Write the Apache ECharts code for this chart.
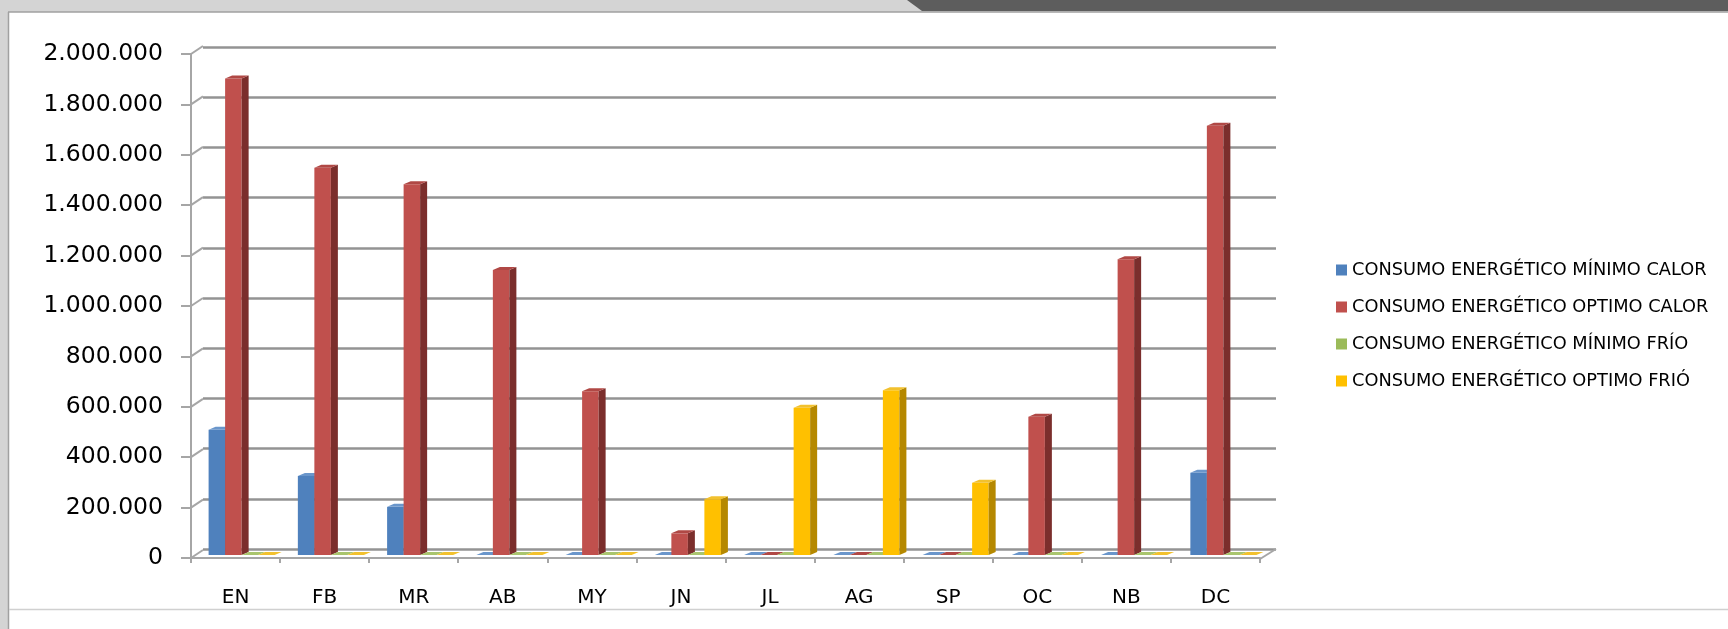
<!DOCTYPE html>
<html>
<head>
<meta charset="utf-8">
<script src="https://cdn.jsdelivr.net/npm/echarts@6/dist/echarts.min.js"></script>
<style>
html,body{margin:0;padding:0;background:#fff;}
#chart{width:1728px;height:629px;}
</style>
</head>
<body>
<div id="chart"></div>
<script>
// ---- data ----
const categories = ['EN','FB','MR','AB','MY','JN','JL','AG','SP','OC','NB','DC'];
const seriesNames = [
  'CONSUMO ENERGÉTICO MÍNIMO CALOR',
  'CONSUMO ENERGÉTICO OPTIMO CALOR',
  'CONSUMO ENERGÉTICO MÍNIMO FRÍO',
  'CONSUMO ENERGÉTICO OPTIMO FRIÓ'
];
const minimoCalor = [497000, 313000, 191000, 0, 0, 0, 0, 0, 0, 0, 0, 326000];
const optimoCalor = [1891000, 1537000, 1471000, 1131000, 650000, 86000, 0, 0, 0, 549000, 1174000, 1703000];
const minimoFrio  = [0, 0, 0, 0, 0, 0, 0, 0, 0, 0, 0, 0];
const optimoFrio  = [0, 0, 0, 0, 0, 221000, 584000, 654000, 287000, 0, 0, 0];
const yTicks = [0, 200000, 400000, 600000, 800000, 1000000, 1200000, 1400000, 1600000, 1800000, 2000000];

const palette = [
  {front:'#4f81bd', side:'#385d8a', top:'#6a96cb'},
  {front:'#c0504d', side:'#7b2e2c', top:'#b04845'},
  {front:'#9bbb59', side:'#71893f', top:'#a9c56e'},
  {front:'#ffc000', side:'#b58800', top:'#f2c12e'}
];
const FONT = 'DejaVu Sans';

function fmt(v){ return String(v).replace(/\B(?=(\d{3})+(?!\d))/g, '.'); }

function barRender(idx){
  const c = palette[idx];
  return function(params, api){
    const ci = api.value(0), v = api.value(1);
    const base = api.coord([ci, 0]);
    const top = api.coord([ci, v]);
    const band = api.size([1, 0])[0];
    const bw = band * 0.185;
    const x0 = base[0] - 2 * bw + idx * bw;
    const x1 = x0 + bw;
    const yb = base[1], yt = top[1];
    const dx = 7, dy = 3;
    return {type:'group', children:[
      {type:'rect', shape:{x:x0, y:yt, width:bw, height:yb - yt}, style:{fill:c.front}},
      {type:'polygon', shape:{points:[[x1,yt],[x1+dx,yt-dy],[x1+dx,yb-dy],[x1,yb]]}, style:{fill:c.side}},
      {type:'polygon', shape:{points:[[x0,yt],[x1,yt],[x1+dx,yt-dy],[x0+dx,yt-dy]]}, style:{fill:c.top}}
    ]};
  };
}

const allData = [minimoCalor, optimoCalor, minimoFrio, optimoFrio];

const barSeries = allData.map((arr, i) => ({
  name: seriesNames[i],
  type: 'custom',
  xAxisIndex: 2, yAxisIndex: 2,
  renderItem: barRender(i),
  itemStyle: {color: palette[i].front},
  data: arr.map((v, k) => [k, v]),
  z: 5 + i,
  silent: true
}));

const connectorSeries = {
  type: 'custom',
  xAxisIndex: 0, yAxisIndex: 0,
  silent: true,
  z: 3,
  data: yTicks.map(v => [0, v]),
  renderItem: function(params, api){
    const p = api.coord([0, api.value(1)]);
    const cs = params.coordSys;
    const ch = [{type:'line', shape:{x1:cs.x, y1:p[1], x2:cs.x + 12, y2:p[1] - 8},
      style:{stroke:'#a6a6a6', lineWidth:2}}];
    if (api.value(1) === 0) {
      ch.push({type:'line', shape:{x1:cs.x + cs.width, y1:p[1] + 1, x2:cs.x + cs.width + 16, y2:p[1] - 9},
        style:{stroke:'#a6a6a6', lineWidth:2}});
    }
    return {type:'group', children: ch};
  }
};

const chart = echarts.init(document.getElementById('chart'));
chart.setOption({
  animation: false,
  backgroundColor: '#ffffff',
  textStyle: {fontFamily: FONT},
  graphic: [
    {type:'rect', shape:{x:0, y:0, width:1728, height:12}, style:{fill:'#d4d4d4'}, z:0},
    {type:'rect', shape:{x:0, y:0, width:8, height:629}, style:{fill:'#d4d4d4'}, z:0},
    {type:'polygon', shape:{points:[[907,0],[1728,0],[1728,11],[922,11]]}, style:{fill:'#5d5d5d'}, z:1},
    {type:'line', shape:{x1:8, y1:12, x2:1728, y2:12}, style:{stroke:'#a0a0a0', lineWidth:1.5}, z:1},
    {type:'line', shape:{x1:8.5, y1:12, x2:8.5, y2:629}, style:{stroke:'#a0a0a0', lineWidth:1.5}, z:1},
    {type:'line', shape:{x1:9, y1:609.5, x2:1728, y2:609.5}, style:{stroke:'#d0d0d0', lineWidth:1.5}, z:1}
  ],
  legend: {
    orient: 'vertical',
    left: 1331,
    top: 256,
    itemWidth: 11,
    itemHeight: 11,
    itemGap: 19,
    icon: 'rect',
    data: seriesNames,
    textStyle: {fontFamily: FONT, fontSize: 17.8, color: '#000', lineHeight: 18}
  },
  grid: [
    {left: 191, top: 54, width: 1069, height: 504},   // front frame
    {left: 203, top: 47, width: 1073, height: 502},   // back wall
    {left: 197, top: 51, width: 1071, height: 504}    // bars plane
  ],
  xAxis: [
    {type:'category', gridIndex:0, data:categories,
      axisLine:{show:true, lineStyle:{color:'#a6a6a6', width:2}},
      axisTick:{show:true, length:5, lineStyle:{color:'#a6a6a6', width:2}},
      axisLabel:{color:'#000', fontSize:20, margin:30, fontFamily:FONT},
      splitLine:{show:false}},
    {type:'category', gridIndex:1, data:categories, show:false},
    {type:'category', gridIndex:2, data:categories, show:false}
  ],
  yAxis: [
    {type:'value', gridIndex:0, min:0, max:2000000, interval:200000,
      axisLine:{show:true, lineStyle:{color:'#a6a6a6', width:2}},
      axisTick:{show:true, length:10, lineStyle:{color:'#a6a6a6', width:2}},
      axisLabel:{color:'#000', fontSize:23.5, margin:28, fontFamily:FONT, formatter: fmt},
      splitLine:{show:false}},
    {type:'value', gridIndex:1, min:0, max:2000000, interval:200000,
      axisLine:{show:false}, axisTick:{show:false}, axisLabel:{show:false},
      splitLine:{show:true, lineStyle:{color:'#939393', width:2.5}}},
    {type:'value', gridIndex:2, min:0, max:2000000, interval:200000, show:false}
  ],
  series: [connectorSeries].concat(barSeries)
});
</script>
</body>
</html>
